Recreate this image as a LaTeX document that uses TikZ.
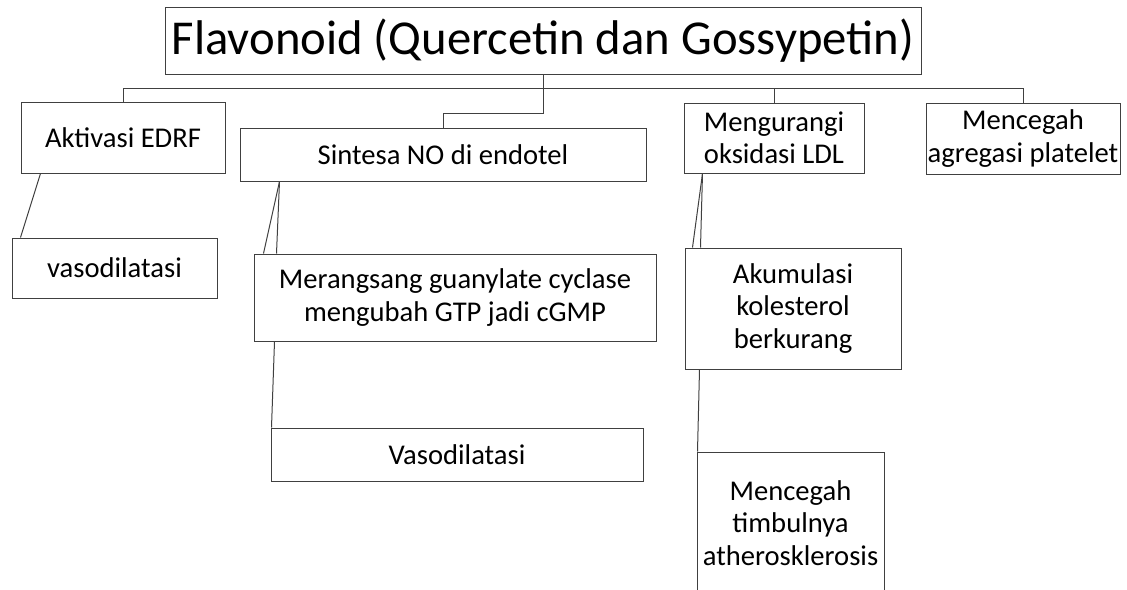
\documentclass[tikz,border=0pt]{standalone}
\usepackage{fontspec}
\setmainfont{Carlito}
\usepackage{tikz}

\tikzset{
    box/.style={draw=black!75, line width=1pt, align=center, inner sep=0pt,
        font=\fontsize{28.6}{32.5}\selectfont},
    link/.style={draw=black!75, line width=1pt}
}

\begin{document}
\begin{tikzpicture}[x=1pt, y=-1pt]
    \useasboundingbox (0,0) rectangle (1127,589);

    % Top
    \node[box, minimum width=756pt, minimum height=67pt, font=\fontsize{48.7}{56}\selectfont]
        (flavonoid) at (543,40.5) {Flavonoid (Quercetin dan Gossypetin)};

    % First row
    \node[box, minimum width=204pt, minimum height=71pt] (edrf) at (123,137.5) {Aktivasi EDRF};
    \node[box, minimum width=406pt, minimum height=53pt] (sintesa) at (443,154.5) {Sintesa NO di endotel};
    \node[box, minimum width=180pt, minimum height=70pt] (ldl) at (774,138) {Mengurangi\\oksidasi LDL};
    \node[box, minimum width=194pt, minimum height=71pt] (platelet) at (1023,138.5) {Mencegah\\agregasi platelet};

    % Lower boxes
    \node[box, minimum width=205pt, minimum height=60pt] (vaso) at (114.5,268) {vasodilatasi};
    \node[box, minimum width=402pt, minimum height=87pt] (guanylate) at (455,297.5) {Merangsang guanylate cyclase\\mengubah GTP jadi cGMP};
    \node[box, minimum width=372pt, minimum height=53pt] (Vaso) at (457,454.5) {Vasodilatasi};
    \node[box, minimum width=216pt, minimum height=121pt] (kolesterol) at (793,308.5) {Akumulasi\\kolesterol\\berkurang};
    \node[box, minimum width=187pt, minimum height=142pt] (athero) at (790.5,523) {Mencegah\\timbulnya\\atherosklerosis};

    % Branches from the top
    \coordinate (bus) at (0,88);
    \draw[link] (edrf.north) -- (edrf.north |- bus) -- (platelet.north |- bus) -- (platelet.north);
    \draw[link] (ldl.north) -- (ldl.north |- bus);
    \draw[link] (flavonoid.south) -- ++(0,39) -| (sintesa.north);

    % Chains
    \draw[link] ([xshift=20pt]edrf.south west) -- ([xshift=9pt]vaso.north west);
    \draw[link] ([xshift=40pt]sintesa.south west) -- ([xshift=10pt]guanylate.north west);
    \draw[link] ([xshift=40pt]sintesa.south west) -- ([xshift=23pt]guanylate.north west);
    \draw[link] ([xshift=21pt]guanylate.south west) -- ([xshift=1pt]Vaso.north west);
    \draw[link] ([xshift=19pt]ldl.south west) -- ([xshift=8pt]kolesterol.north west);
    \draw[link] ([xshift=19pt]ldl.south west) -- ([xshift=16pt]kolesterol.north west);
    \draw[link] ([xshift=15pt]kolesterol.south west) -- ([xshift=1pt]athero.north west);
\end{tikzpicture}
\end{document}
